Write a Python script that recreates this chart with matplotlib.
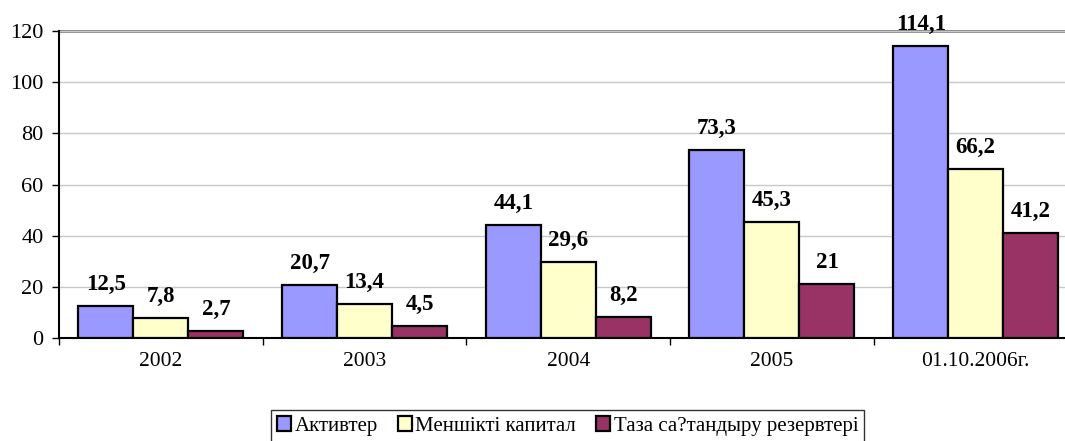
import numpy as np
import matplotlib
matplotlib.use("Agg")
import matplotlib.pyplot as plt

plt.rcParams['font.family'] = ['Liberation Serif', 'DejaVu Serif']

categories = ['2002', '2003', '2004', '2005', '01.10.2006г.']
series_names = ['Активтер', 'Меншікті капитал', 'Таза са?тандыру резервтері']
aktivter = [12.5, 20.7, 44.1, 73.3, 114.1]
kapital = [7.8, 13.4, 29.6, 45.3, 66.2]
rezerv = [2.7, 4.5, 8.2, 21, 41.2]
colors = ['#9999FF', '#FFFFCC', '#993366']

fig = plt.figure(figsize=(10.65, 4.41), dpi=100)
ax = fig.add_axes([59 / 1065, 103 / 441, 1018.5 / 1065, 307 / 441])

x = np.arange(len(categories))
w = 0.27
for k, vals in enumerate([aktivter, kapital, rezerv]):
    bars = ax.bar(x + (k - 1) * w, vals, w, color=colors[k], edgecolor='black',
                  linewidth=1.6, label=series_names[k], zorder=3)
    for b, v in zip(bars, vals):
        ax.annotate(f"{v:g}".replace('.', ','), (b.get_x() + b.get_width() / 2, v),
                    xytext=(0, 8), textcoords='offset points', ha='center', va='bottom',
                    fontsize=16.5, fontweight='bold')

ax.set_xlim(-0.5, len(categories) - 0.5)
ax.set_ylim(0, 120)
ax.set_yticks(range(0, 121, 20))
ax.set_xticks(x)
ax.set_xticklabels(categories, fontsize=15.5)
ax.set_xticks(np.arange(-0.5, len(categories), 1), minor=True)
ax.tick_params(axis='x', which='major', length=0, pad=10)
ax.tick_params(axis='x', which='minor', length=5, width=1, direction='out')
ax.tick_params(axis='y', labelsize=16, length=5, width=1, direction='out', pad=6)
ax.yaxis.grid(True, color='#c8c8c8', linewidth=1, zorder=0)
ax.axhline(120, color='#808080', linewidth=2, zorder=1, clip_on=False)
for s in ['top', 'right']:
    ax.spines[s].set_visible(False)
ax.spines['left'].set_linewidth(1.5)
ax.spines['bottom'].set_linewidth(1.5)

leg = fig.legend(loc='upper center', bbox_to_anchor=(567.5 / 1065, 1 - 410 / 441), ncol=3,
                 fontsize=15, frameon=True, fancybox=False, edgecolor='black',
                 handlelength=0.7, handleheight=0.7, handletextpad=0.15,
                 columnspacing=0.95, borderpad=0.3, borderaxespad=0)
leg.get_frame().set_linewidth(1)

fig.savefig('out.png', dpi=100)
